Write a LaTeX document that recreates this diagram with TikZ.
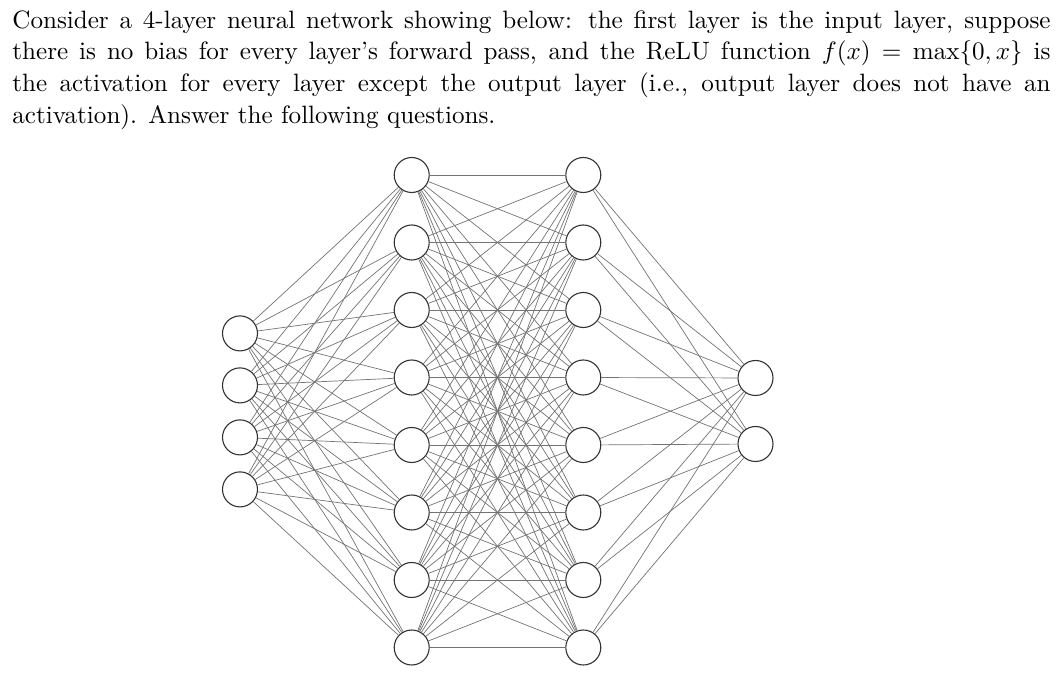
\documentclass[tikz,border=0pt]{standalone}
\usepackage{graphicx}
\begin{document}
\begin{tikzpicture}[x=0.5pt, y=-0.5pt,
		neuron/.style={draw=black!80, fill=white, circle, minimum size=17.5pt, inner sep=0pt, line width=0.55pt},
		link/.style={draw=black!55, line width=0.35pt}]
		\useasboundingbox (0,0) rectangle (1064,688);
		
		\node[anchor=base west, inner sep=0pt] (question) at (12,28.3) {\scalebox{1.255}{\parbox[t]{413.6pt}{\fontsize{10pt}{12.6pt}\selectfont
				Consider a 4-layer neural network showing below: the first layer is the input layer, suppose\linebreak
				there is no bias for every layer’s forward pass, and the ReLU function $f(x) = \max\{0, x\}$ is\linebreak
				the activation for every layer except the output layer (i.e., output layer does not have an\linebreak
				activation). Answer the following questions.}}};
		
		\foreach \i in {1,...,4}
			\node[neuron] (in\i) at (240, {411.4+(\i-2.5)*52}) {};
		\foreach \i in {1,...,8} {
			\node[neuron] (ha\i) at (411.7, {175+(\i-1)*67.5}) {};
			\node[neuron] (hb\i) at (583.3, {175+(\i-1)*67.5}) {};
		}
		\foreach \i in {1,2}
			\node[neuron] (out\i) at (755.5, {411+(\i-1.5)*66}) {};
		
		\foreach \i in {1,...,4}
			\foreach \j in {1,...,8}
				\draw[link] (in\i) -- (ha\j);
		\foreach \i in {1,...,8}
			\foreach \j in {1,...,8}
				\draw[link] (ha\i) -- (hb\j);
		\foreach \i in {1,...,8}
			\foreach \j in {1,2}
				\draw[link] (hb\i) -- (out\j);
	\end{tikzpicture}
\end{document}
